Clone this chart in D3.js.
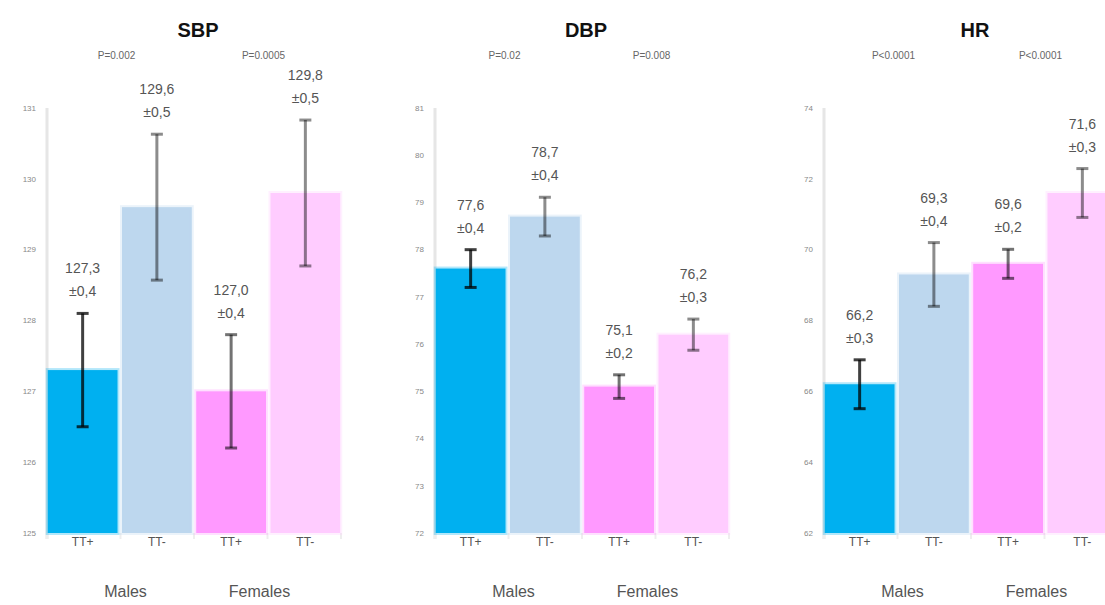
<!doctype html>
<html>
<head>
    <script src="https://d3js.org/d3.v7.min.js"></script>
</head>
<style>
    body { margin: 0; background: #fff; }
    svg text { font-family: "Liberation Sans", Arial, sans-serif; }
</style>
<body>
    <div id="chart"></div>
    <script>
        // categories and groups
        var categories = ["TT+", "TT-", "TT+", "TT-"];
        var groups = ["Males", "Females"];
        var colors = ["#00b0f0", "#bdd7ee", "#ff99ff", "#ffccff"];

        // SBP
        var sbpMeans = [127.3, 129.6, 127.0, 129.8];
        var sbpSE = [0.4, 0.5, 0.4, 0.5];
        var sbpErr = [0.8, 1.03, 0.8, 1.03];
        var sbpTicks = [125, 126, 127, 128, 129, 130, 131];
        var sbpP = ["P=0.002", "P=0.0005"];

        // DBP
        var dbpMeans = [77.6, 78.7, 75.1, 76.2];
        var dbpSE = [0.4, 0.4, 0.2, 0.3];
        var dbpErr = [0.4, 0.41, 0.25, 0.33];
        var dbpTicks = [72, 73, 74, 75, 76, 77, 78, 79, 80, 81];
        var dbpP = ["P=0.02", "P=0.008"];

        // HR
        var hrMeans = [66.2, 69.3, 69.6, 71.6];
        var hrSE = [0.3, 0.4, 0.2, 0.3];
        var hrErr = [0.69, 0.9, 0.41, 0.69];
        var hrTicks = [62, 64, 66, 68, 70, 72, 74];
        var hrP = ["P<0.0001", "P<0.0001"];

        var panels = [
            {title: "SBP", means: sbpMeans, se: sbpSE, err: sbpErr, ticks: sbpTicks, p: sbpP, left: 47},
            {title: "DBP", means: dbpMeans, se: dbpSE, err: dbpErr, ticks: dbpTicks, p: dbpP, left: 435},
            {title: "HR", means: hrMeans, se: hrSE, err: hrErr, ticks: hrTicks, p: hrP, left: 824}
        ];

        var width = 1105, height = 605,
            plotTop = 108, plotBottom = 533, bandW = 73.5;
        var errOpacity = [0.75, 0.45, 0.55, 0.45];
        var groupShift = [5, -8];

        var fmt = function(v) { return d3.format(".1f")(v).replace(".", ","); };

        var svg = d3.select("#chart")
                    .append("svg")
                    .attr("width", width)
                    .attr("height", height);

        panels.forEach(function(p) {
            var g = svg.append("g");

            var x = d3.scaleBand()
                      .domain(d3.range(categories.length))
                      .range([p.left, p.left + bandW * categories.length])
                      .paddingInner(0.06)
                      .paddingOuter(0.01);

            var y = d3.scaleLinear()
                      .domain([p.ticks[0], p.ticks[p.ticks.length - 1]])
                      .range([plotBottom, plotTop]);

            // y axis: light line with small labels
            g.append("line")
             .attr("x1", p.left).attr("x2", p.left)
             .attr("y1", plotTop).attr("y2", plotBottom + 6)
             .attr("stroke", "#e6e6e6")
             .attr("stroke-width", 3);

            g.selectAll(".ytick")
             .data(p.ticks)
             .enter()
             .append("text")
             .attr("x", p.left - 11)
             .attr("y", function(d) { return y(d); })
             .attr("dy", "0.35em")
             .attr("text-anchor", "end")
             .attr("font-size", "8px")
             .attr("fill", "#888")
             .text(function(d) { return d; });

            // category separators at the bottom
            g.selectAll(".sep")
             .data(d3.range(categories.length + 1))
             .enter()
             .append("line")
             .attr("x1", function(d) { return p.left + d * bandW; })
             .attr("x2", function(d) { return p.left + d * bandW; })
             .attr("y1", plotBottom)
             .attr("y2", plotBottom + 6)
             .attr("stroke", "#eee")
             .attr("stroke-width", 2);

            // bars
            var bar = g.selectAll(".bar")
                       .data(p.means)
                       .enter()
                       .append("g");

            bar.append("rect")
               .attr("x", function(d, i) { return x(i); })
               .attr("y", function(d) { return y(d); })
               .attr("width", x.bandwidth())
               .attr("height", function(d) { return plotBottom - y(d); })
               .attr("fill", function(d, i) { return colors[i]; })
               .attr("stroke", function(d, i) { return colors[i]; })
               .attr("stroke-opacity", 0.3)
               .attr("stroke-width", 4);

            // error bars and value labels
            bar.each(function(d, i) {
                var cx = x(i) + x.bandwidth() / 2,
                    y1 = y(d + p.err[i]),
                    y2 = y(d - p.err[i]);
                var e = d3.select(this).append("g")
                          .attr("stroke", "#000")
                          .attr("stroke-opacity", errOpacity[i])
                          .attr("stroke-width", 3);
                e.append("line").attr("x1", cx).attr("x2", cx).attr("y1", y1).attr("y2", y2);
                e.append("line").attr("x1", cx - 6).attr("x2", cx + 6).attr("y1", y1).attr("y2", y1);
                e.append("line").attr("x1", cx - 6).attr("x2", cx + 6).attr("y1", y2).attr("y2", y2);

                d3.select(this).append("text")
                  .attr("x", cx)
                  .attr("y", y1 - 40)
                  .attr("text-anchor", "middle")
                  .attr("font-size", "14px")
                  .attr("fill", "#555")
                  .text(fmt(d));
                d3.select(this).append("text")
                  .attr("x", cx)
                  .attr("y", y1 - 17)
                  .attr("text-anchor", "middle")
                  .attr("font-size", "14px")
                  .attr("fill", "#555")
                  .text("±" + fmt(p.se[i]));
            });

            // category labels
            g.selectAll(".cat")
             .data(categories)
             .enter()
             .append("text")
             .attr("x", function(d, i) { return x(i) + x.bandwidth() / 2; })
             .attr("y", 546)
             .attr("text-anchor", "middle")
             .attr("font-size", "12px")
             .attr("fill", "#555")
             .text(function(d) { return d; });

            // group labels and p values
            groups.forEach(function(gr, k) {
                var cx = p.left + bandW * (2 * k + 1);
                g.append("text")
                 .attr("x", cx + groupShift[k])
                 .attr("y", 597)
                 .attr("text-anchor", "middle")
                 .attr("font-size", "16px")
                 .attr("fill", "#555")
                 .text(gr);
                g.append("text")
                 .attr("x", cx - 4)
                 .attr("y", 59)
                 .attr("text-anchor", "middle")
                 .attr("font-size", "10px")
                 .attr("fill", "#666")
                 .text(p.p[k]);
            });

            // title
            g.append("text")
             .attr("x", p.left + bandW * 2 + 4)
             .attr("y", 37)
             .attr("text-anchor", "middle")
             .attr("font-size", "20px")
             .attr("font-weight", "bold")
             .attr("fill", "#111")
             .text(p.title);
        });
    </script>
</body>
</html>
